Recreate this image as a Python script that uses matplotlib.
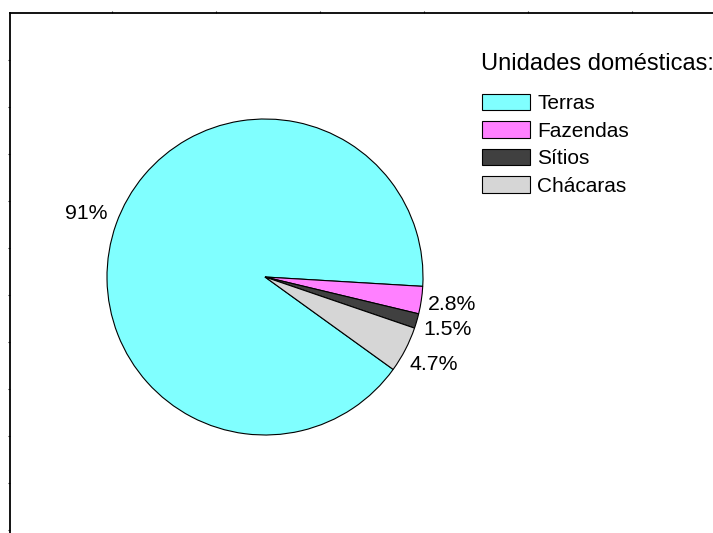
import numpy as np
import matplotlib.pyplot as plt
from matplotlib.ticker import FixedLocator

plt.rcParams['font.family'] = ['Liberation Sans', 'DejaVu Sans']

categorias = ['Terras', 'Fazendas', 'Sítios', 'Chácaras']
percentuais = [91, 2.8, 1.5, 4.7]
cores = ['#80FFFF', '#FF80FF', '#404040', '#D6D6D6']
titulo_legenda = 'Unidades domésticas:'

W, H = 713, 533
fig = plt.figure(figsize=(W / 100, H / 100), dpi=100)

# moldura de planilha (linhas de grade superior e esquerda)
esq, topo = 9.5, 13
grade = fig.add_axes([esq / W, 0, 1 - esq / W, (H - topo) / H])
grade.set_xlim(esq, W)
grade.set_ylim(H - topo, 0)
for lado in ['right', 'bottom']:
    grade.spines[lado].set_visible(False)
for lado in ['top', 'left']:
    grade.spines[lado].set_linewidth(1.3)
grade.xaxis.set_major_locator(FixedLocator(np.arange(8, W, 104)))
grade.yaxis.set_major_locator(FixedLocator(np.arange(47, H, 47)))
grade.tick_params(top=True, bottom=False, labeltop=False, labelbottom=False,
                  left=True, labelleft=False, length=1.5, width=0.8,
                  direction='out', color='#333333')
grade.patch.set_alpha(0)

# pizza
cx, cy, r = 265, 277, 158
ax = fig.add_axes([(cx - r) / W, (H - cy - r) / H, 2 * r / W, 2 * r / H])
fatias, _, textos = ax.pie(
    percentuais, colors=cores, startangle=-35.8, counterclock=False,
    autopct=lambda p: '{:g}%'.format(round(p, 1)), pctdistance=1.2,
    wedgeprops=dict(edgecolor='black', linewidth=0.8),
    textprops=dict(fontsize=15.3, color='black'))
ax.set_xlim(-1, 1)
ax.set_ylim(-1, 1)
ax.set_aspect('equal')
ax.axis('off')

fig.text(481 / W, 1 - 63.5 / H, titulo_legenda, fontsize=17, ha='left', va='center')
fig.legend(fatias, categorias, loc='upper left',
           bbox_to_anchor=(482 / W, 1 - 94 / H), frameon=False, fontsize=15,
           handlelength=2.3, handleheight=0.82, handletextpad=0.35,
           labelspacing=0.39, borderpad=0, borderaxespad=0)

fig.savefig('out.png', dpi=100)
